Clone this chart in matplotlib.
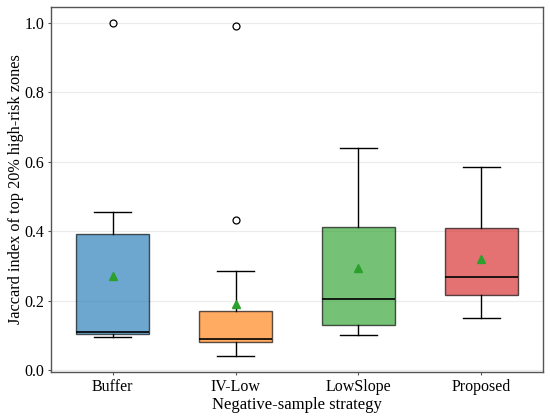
import matplotlib.pyplot as plt

plt.rcParams['font.family'] = ['Liberation Serif', 'DejaVu Serif']

# Box statistics
strategies = ["Buffer", "IV-Low", "LowSlope", "Proposed"]
whisker_low = [0.095, 0.039, 0.100, 0.151]
q1 = [0.103, 0.080, 0.129, 0.217]
median = [0.109, 0.088, 0.204, 0.268]
q3 = [0.391, 0.171, 0.411, 0.409]
whisker_high = [0.456, 0.284, 0.641, 0.585]
mean = [0.272, 0.191, 0.294, 0.320]
outliers = [[0.999], [0.993, 0.432], [], []]

colors = ["tab:blue", "tab:orange", "tab:green", "tab:red"]

stats = []
for i, name in enumerate(strategies):
    stats.append({
        "label": name,
        "whislo": whisker_low[i],
        "q1": q1[i],
        "med": median[i],
        "q3": q3[i],
        "whishi": whisker_high[i],
        "mean": mean[i],
        "fliers": outliers[i],
    })

fig = plt.figure(figsize=(5.5, 4.19), dpi=100)
ax = fig.add_axes([0.093, 0.113, 0.894, 0.870])

bp = ax.bxp(
    stats,
    widths=0.6,
    showmeans=True,
    patch_artist=True,
    medianprops=dict(color="black", linewidth=1.2),
    whiskerprops=dict(color="black", linewidth=1.0),
    capprops=dict(color="black", linewidth=1.0),
    flierprops=dict(marker="o", markerfacecolor="none", markeredgecolor="black",
                    markersize=5, markeredgewidth=0.9),
    meanprops=dict(marker="^", markerfacecolor="tab:green", markeredgecolor="tab:green",
                   markersize=6),
)

for patch, c in zip(bp["boxes"], colors):
    patch.set_facecolor(c)
    patch.set_alpha(0.65)
    patch.set_edgecolor("black")
    patch.set_linewidth(1.0)

ax.set_ylim(-0.005, 1.046)
ax.set_xlim(0.5, 4.5)
ax.set_yticks([0.0, 0.2, 0.4, 0.6, 0.8, 1.0])
ax.set_yticklabels(["0.0", "0.2", "0.4", "0.6", "0.8", "1.0"])

ax.grid(axis="y", color="#ebebeb", linewidth=0.8)
ax.set_axisbelow(True)

for s in ax.spines.values():
    s.set_color("#555555")
    s.set_linewidth(1.0)
ax.tick_params(colors="#555555", labelcolor="black", labelsize=11.5, length=2.5, pad=2.5)

ax.set_xlabel("Negative-sample strategy", fontsize=12, labelpad=1.5)
ax.set_ylabel("Jaccard index of top 20% high-risk zones", fontsize=11.7, labelpad=0.5)

fig.savefig("out.png", dpi=100)
